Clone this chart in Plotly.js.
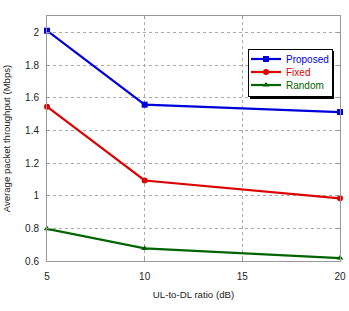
<!DOCTYPE html>
<html><head><meta charset="utf-8">
<script src="https://cdn.plot.ly/plotly-3.0.1.min.js"></script>
<style>html,body{margin:0;padding:0;background:#fff}</style>
</head><body><div id="chart" style="width:349px;height:311px"></div>
<script>
var ratios = [5, 10, 20];
var proposed = [2.01, 1.557, 1.512];
var fixed = [1.545, 1.093, 0.984];
var random = [0.797, 0.677, 0.618];
var xTicks = [5, 10, 15, 20];
var yTicks = [0.6, 0.8, 1, 1.2, 1.4, 1.6, 1.8, 2];
var colors = ['#0000dd', '#dd0000', '#006400'];
var FONT = 'Liberation Sans, Arial, sans-serif';

function tr(name, y, color, sym, sz) {
  return {x: ratios, y: y, name: name, type: 'scatter', mode: 'lines+markers',
    line: {color: color, width: 2.2}, marker: {color: color, symbol: sym, size: sz},
    cliponaxis: false};
}
var data = [
  tr('Proposed', proposed, colors[0], 'square', 6),
  tr('Fixed', fixed, colors[1], 'circle', 6),
  tr('Random', random, colors[2], 'triangle-up', 6)
];
var axisCommon = {showline: true, mirror: 'ticks', linecolor: '#999', linewidth: 1,
  gridcolor: '#aaa', griddash: 'dot', gridwidth: 1, zeroline: false,
  ticks: 'inside', ticklen: 3, tickcolor: '#999', automargin: false,
  tickfont: {family: FONT, size: 10, color: '#222'}};
var layout = {
  width: 349, height: 311,
  margin: {l: 47, r: 9, t: 16, b: 50},
  paper_bgcolor: '#fff', plot_bgcolor: '#fff',
  showlegend: true,
  xaxis: Object.assign({}, axisCommon, {range: [5, 20], tickvals: xTicks,
    ticktext: xTicks.map(String), ticklabelstandoff: 6,
    title: {text: 'UL-to-DL ratio (dB)', standoff: 10,
      font: {family: FONT, size: 9.7, color: '#222'}}}),
  yaxis: Object.assign({}, axisCommon, {range: [0.6, 2.1], tickvals: yTicks,
    ticktext: yTicks.map(String), ticklabelstandoff: 5,
    title: {text: 'Average packet throughput (Mbps)', standoff: 12,
      font: {family: FONT, size: 9.6, color: '#222'}}}),
  legend: {x: 0.686, y: 0.8653, xanchor: 'left', yanchor: 'top',
    bgcolor: '#fff', bordercolor: '#000', borderwidth: 1,
    font: {family: FONT, size: 10},
    tracegroupgap: 0, itemwidth: 30},
  shapes: [{type: 'rect', xref: 'paper', yref: 'paper', layer: 'above',
    x0: 0.6928, x1: 0.9795, y0: 0.6612, y1: 0.857,
    fillcolor: '#000', line: {width: 0}}]
};
Plotly.newPlot('chart', data, layout, {displayModeBar: false, staticPlot: true}).then(function(){
  var items = document.querySelectorAll('.legend .traces');
  items.forEach(function(g, i){
    var t = g.querySelector('text');
    if (t) t.style.fill = colors[i];
    g.setAttribute('transform', 'translate(-2,' + (10 + i * 13) + ')');
  });
  var bg = document.querySelector('.legend rect.bg');
  if (bg) { bg.setAttribute('height', 47); bg.setAttribute('width', 84); }
});
</script></body></html>
